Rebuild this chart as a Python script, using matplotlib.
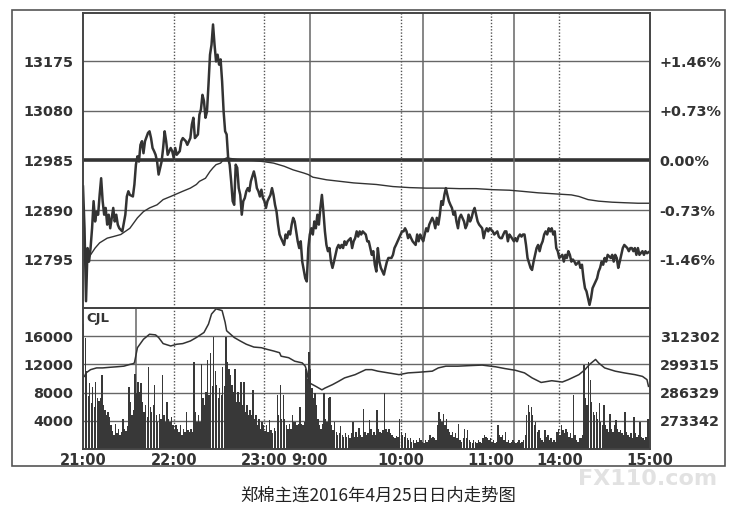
import matplotlib.pyplot as plt
from matplotlib.patches import Rectangle
import numpy as np

plt.rcParams['font.family'] = ['DejaVu Sans']

# axis values
base_price = 12985
price_ticks = [12795, 12890, 12985, 13080, 13175]
pct_labels = ['-1.46%', '-0.73%', '0.00%', '+0.73%', '+1.46%']
vol_ticks = [4000, 8000, 12000, 16000]
oi_ticks = [273342, 286329, 299315, 312302]
time_pos = [0, 60, 120, 150, 210, 270, 315, 375]
time_labels = ['21:00', '22:00', '23:00', '9:00', '10:00', '11:00', '14:00', '15:00']
solid_lines = [150, 225, 285]
dotted_lines = [60, 120, 210, 270, 315]

# minutes since 21:00 on the trading-time axis
price_min = [0, 1, 2, 3, 4, 5, 6, 7, 8, 9, 10, 11, 12, 13, 14, 15, 16, 17, 18, 20,
             21, 22, 23, 24, 26, 28, 29, 30, 31, 33, 34, 35, 36, 37, 38, 39, 40, 41, 43, 44,
             45, 46, 47, 48, 49, 50, 52, 53, 54, 55, 56, 58, 59, 60, 61, 62, 64, 65, 66, 68,
             69, 71, 72, 73, 74, 76, 77, 78, 79, 80, 81, 82, 83, 84, 85, 86, 87, 88, 89, 90,
             91, 92, 93, 94, 95, 96, 97, 98, 99, 100, 101, 102, 103, 104, 105, 106, 107, 108, 109, 110,
             111, 113, 114, 115, 116, 117, 118, 119, 120, 121, 122, 124, 125, 126, 127, 128, 129, 130, 131, 133,
             134, 135, 136, 137, 138, 139, 140, 141, 142, 143, 144, 145, 147, 148, 149, 150, 151, 152, 153, 154,
             155, 156, 157, 158, 159, 160, 161, 162, 163, 164, 165, 166, 167, 168, 169, 170, 171, 172, 173, 174,
             175, 177, 178, 179, 180, 181, 182, 183, 184, 185, 187, 188, 189, 190, 191, 192, 193, 194, 195, 196,
             197, 199, 200, 201, 202, 203, 204, 205, 206, 207, 209, 210, 211, 212, 213, 214, 215, 216, 217, 218,
             220, 221, 222, 223, 224, 225, 226, 227, 228, 229, 231, 232, 233, 234, 235, 236, 237, 238, 239, 240,
             241, 242, 243, 244, 245, 246, 247, 248, 249, 250, 252, 253, 254, 255, 256, 257, 258, 259, 260, 261,
             262, 264, 265, 266, 267, 268, 269, 270, 271, 272, 274, 275, 276, 277, 278, 279, 280, 281, 282, 283,
             285, 286, 287, 288, 289, 290, 291, 292, 293, 294, 296, 297, 298, 299, 300, 301, 302, 303, 304, 305,
             306, 307, 308, 309, 310, 311, 312, 313, 314, 315, 317, 318, 319, 320, 321, 322, 323, 324, 325, 326,
             328, 329, 330, 331, 332, 333, 334, 335, 336, 337, 339, 340, 341, 342, 343, 344, 345, 346, 347, 349,
             350, 351, 352, 353, 354, 355, 356, 357, 358, 360, 361, 362, 363, 364, 365, 366, 367, 368, 370, 371,
             372, 373, 374]
price_val = [12935, 12855, 12715, 12817, 12791, 12817, 12855, 12907, 12868, 12887, 12881, 12919, 12951, 12907, 12881, 12894, 12862, 12881, 12855, 12894,
             12868, 12881, 12862, 12855, 12849, 12881, 12916, 12926, 12919, 12916, 12939, 12977, 12993, 12983, 13015, 13022, 12999, 13022, 13038, 13041,
             13028, 13009, 13003, 12996, 12983, 12958, 12983, 13009, 13041, 13022, 12996, 13009, 13003, 12990, 13009, 12996, 13003, 13022, 13028, 13022,
             13015, 13028, 13054, 13067, 13028, 13035, 13073, 13083, 13111, 13099, 13067, 13079, 13131, 13188, 13207, 13246, 13207, 13175, 13188, 13169,
             13179, 13137, 13079, 13041, 13035, 12990, 12977, 12945, 12907, 12900, 12977, 12971, 12932, 12919, 12881, 12907, 12913, 12926, 12932, 12926,
             12945, 12964, 12951, 12932, 12926, 12916, 12929, 12913, 12907, 12894, 12907, 12919, 12932, 12919, 12900, 12887, 12862, 12843, 12836, 12823,
             12843, 12836, 12849, 12843, 12862, 12875, 12868, 12849, 12830, 12817, 12830, 12791, 12759, 12753, 12817, 12843, 12855, 12843, 12868, 12855,
             12881, 12862, 12894, 12919, 12887, 12849, 12823, 12811, 12817, 12791, 12779, 12791, 12804, 12817, 12823, 12817, 12823, 12817, 12830, 12823,
             12830, 12836, 12817, 12830, 12836, 12849, 12839, 12849, 12843, 12849, 12843, 12830, 12830, 12817, 12804, 12811, 12785, 12772, 12817, 12791,
             12779, 12766, 12779, 12791, 12798, 12798, 12798, 12804, 12817, 12823, 12836, 12843, 12849, 12849, 12855, 12849, 12836, 12843, 12836, 12830,
             12823, 12843, 12830, 12843, 12836, 12830, 12843, 12855, 12849, 12862, 12875, 12868, 12855, 12875, 12862, 12881, 12907, 12900, 12919, 12932,
             12919, 12907, 12900, 12894, 12881, 12887, 12868, 12855, 12875, 12881, 12868, 12855, 12862, 12881, 12868, 12875, 12887, 12894, 12881, 12868,
             12862, 12855, 12836, 12849, 12855, 12849, 12855, 12852, 12849, 12843, 12849, 12839, 12836, 12836, 12843, 12849, 12849, 12830, 12843, 12839,
             12830, 12836, 12830, 12839, 12843, 12839, 12843, 12843, 12823, 12798, 12779, 12775, 12791, 12804, 12817, 12823, 12811, 12823, 12830, 12843,
             12849, 12843, 12855, 12849, 12855, 12843, 12849, 12817, 12811, 12798, 12804, 12791, 12804, 12798, 12811, 12804, 12791, 12795, 12791, 12785,
             12791, 12779, 12785, 12759, 12740, 12734, 12721, 12708, 12721, 12740, 12753, 12759, 12772, 12779, 12791, 12785, 12798, 12791, 12804, 12798,
             12804, 12791, 12804, 12798, 12779, 12791, 12804, 12817, 12823, 12817, 12811, 12817, 12817, 12811, 12817, 12804, 12817, 12804, 12811, 12804,
             12811, 12807, 12809]

avg_min = [2, 5, 8, 11, 16, 20, 25, 28, 31, 36, 40, 44, 49, 53, 58, 62, 66, 71, 75, 77,
           81, 84, 86, 88, 91, 93, 95, 102, 113, 119, 126, 133, 139, 146, 149, 152, 161, 170, 179, 194,
           205, 216, 227, 238, 249, 260, 271, 282, 290, 301, 312, 323, 328, 334, 341, 350, 358, 367, 374]
avg_val = [12791, 12804, 12817, 12827, 12836, 12839, 12843, 12849, 12855, 12875, 12887, 12894, 12900, 12910, 12916, 12921, 12926, 12932, 12939, 12945,
           12951, 12964, 12971, 12977, 12980, 12987, 12990, 12987, 12985, 12983, 12980, 12974, 12967, 12961, 12958, 12953, 12948, 12945, 12942, 12939,
           12935, 12933, 12932, 12932, 12931, 12931, 12929, 12928, 12926, 12923, 12921, 12919, 12916, 12910, 12907, 12905, 12904, 12903, 12903]

# volume (CJL), one bar per minute
volume = [17800, 15700, 11000, 7500, 9300, 6500, 8800, 6000, 9500, 7200, 6800, 7200, 10500, 6200, 5600,
          4800, 5300, 4500, 3400, 2500, 2000, 3600, 2200, 2900, 2000, 2450, 4300, 2900, 2500, 3200,
          8800, 6700, 4800, 5500, 10700, 8000, 9500, 8100, 9300, 6700, 5300, 6200, 4500, 11700, 6000,
          5300, 6200, 9100, 4800, 3900, 5000, 4300, 10500, 4800, 3900, 6700, 4300, 3900, 4500, 3400,
          2700, 3400, 2800, 2450, 3400, 2000, 2900, 2450, 5300, 2700, 2450, 2900, 2450, 12400, 5300,
          3900, 4800, 3900, 12100, 7200, 6200, 8100, 12600, 7600, 13600, 9000, 15900, 11000, 9100, 7200,
          8600, 7600, 11700, 9000, 15900, 12400, 11400, 10500, 9100, 8100, 11400, 6700, 8100, 6700, 9500,
          6200, 9500, 5300, 6200, 4800, 5500, 4800, 8400, 4300, 4800, 3400, 4300, 2900, 3900, 3400,
          2500, 3400, 2450, 4100, 2700, 2200, 3000, 2500, 7600, 4800, 9100, 4300, 7600, 4300, 3400,
          2900, 3600, 2900, 4800, 3900, 3900, 3400, 3600, 6000, 3600, 3400, 3900, 11400, 10000, 13800,
          11400, 8600, 7200, 8000, 6200, 4300, 3400, 2900, 3600, 7900, 4300, 3900, 7200, 7400, 3400,
          2700, 3900, 2450, 2000, 2200, 3200, 2000, 1750, 2200, 1750, 2000, 1500, 2200, 3900, 1750,
          2450, 1750, 3000, 2000, 1750, 5700, 2450, 2000, 2200, 4100, 2900, 2000, 2450, 2000, 5500,
          2900, 2450, 2200, 2700, 7900, 2900, 2450, 2900, 2200, 2000, 1750, 1500, 1900, 1750, 4300,
          2450, 2000, 1750, 2200, 1500, 1250, 1500, 1030, 1250, 800, 1250, 1030, 1500, 1250, 1030,
          800, 1250, 1030, 1250, 2000, 1500, 1750, 1500, 1250, 3400, 5300, 4300, 3900, 5000, 3400,
          4300, 2900, 2450, 2000, 2450, 1750, 2200, 1500, 3600, 1250, 1030, 1500, 2900, 1500, 2700,
          1250, 1030, 800, 1250, 1030, 800, 1250, 1030, 800, 1500, 2000, 1750, 1500, 1250, 1500,
          1030, 1250, 800, 1030, 3400, 2000, 1750, 2000, 1250, 2450, 1030, 1250, 800, 1030, 1250,
          1030, 800, 1030, 1250, 800, 1030, 1250, 2000, 4800, 6200, 5300, 6000, 4800, 3400, 3900,
          2450, 2700, 1500, 1250, 1030, 2700, 1750, 2000, 1250, 1500, 1030, 1250, 1030, 2450, 2900,
          2000, 3400, 2700, 2200, 2900, 2450, 1750, 2200, 1500, 7600, 2000, 1250, 1030, 1500, 1500,
          2000, 11900, 7200, 6200, 12400, 9800, 6700, 5300, 4800, 5300, 4300, 6500, 3900, 3400, 6200,
          3400, 2900, 2450, 5000, 2900, 2450, 3400, 4100, 2900, 2450, 2700, 2200, 2000, 5300, 2450,
          2000, 1750, 2200, 1500, 4600, 2200, 1750, 2000, 3900, 1750, 1500, 1250, 1750, 4300, 4300]

# open interest line, right scale of the lower panel
oi_min = [1, 2, 5, 9, 13, 18, 22, 27, 31, 33, 34, 36, 40, 44, 48, 50, 53, 58, 62, 66,
          71, 75, 80, 83, 85, 88, 92, 94, 95, 100, 104, 108, 113, 118, 122, 126, 130, 131, 136, 140,
          145, 147, 148, 149, 150, 154, 158, 160, 165, 169, 173, 180, 187, 191, 195, 202, 209, 215, 222, 231,
          235, 240, 248, 257, 264, 273, 279, 286, 292, 297, 303, 310, 317, 321, 328, 332, 335, 339, 341, 345,
          352, 358, 365, 370, 373, 374]
oi_val = [293800, 295400, 296900, 297700, 297700, 298000, 298200, 298500, 299300, 299600, 300000, 307000, 310900, 313200, 312900, 311700, 308900, 307800, 308600, 308900,
          310100, 311700, 314000, 317900, 322500, 324900, 324100, 318700, 314800, 311700, 310100, 308600, 307300, 307000, 306200, 305500, 304700, 303100, 302400, 300800,
          300000, 298500, 296200, 292300, 290700, 289200, 287600, 288400, 290000, 291500, 293100, 294600, 296900, 296900, 296200, 295400, 294600, 295400, 295700, 296200,
          297700, 298500, 298500, 298800, 299000, 298200, 297400, 296600, 295400, 293100, 291000, 291800, 291200, 292300, 294600, 296900, 299300, 301600, 300000, 297700,
          296200, 295400, 294600, 293800, 292300, 289200]

W, H = 756, 525
fig = plt.figure(figsize=(W / 100, H / 100), dpi=100)
fig.patches.append(Rectangle((12 / W, 1 - 466 / H), 713 / W, 456 / H, transform=fig.transFigure,
                             fill=False, ec='#555555', lw=1.2))

ax = fig.add_axes([83 / W, 1 - 308 / H, 567 / W, 295 / H])
axv = fig.add_axes([83 / W, 1 - 449 / H, 567 / W, 141 / H])

line_c = '#333333'
grid_c = '#666666'
lab = dict(fontsize=10.4, fontweight='bold', color='#333333')

# ---- price panel
ax.set_xlim(0, 375)
ax.set_ylim(12702, 13268)
for p in price_ticks:
    if p == base_price:
        ax.axhline(p, color='#333333', lw=2.6, zorder=1)
    else:
        ax.axhline(p, color=grid_c, lw=1.0, zorder=1)
for m in solid_lines:
    ax.axvline(m, color=grid_c, lw=1.1, zorder=1)
for m in dotted_lines:
    ax.axvline(m, color='#555555', lw=1.0, ls=(0, (1, 1.3)), zorder=1)
ax.plot(avg_min, avg_val, color=line_c, lw=1.0, zorder=2)
ax.plot(price_min, price_val, color=line_c, lw=1.8, zorder=3)
ax.set_xticks([])
ax.set_yticks(price_ticks)
ax.set_yticklabels([str(p) for p in price_ticks], **lab)
ax.tick_params(axis='y', length=0, pad=7)

axr = ax.twinx()
axr.set_ylim(ax.get_ylim())
axr.set_yticks(price_ticks)
axr.set_yticklabels(pct_labels, **lab)
axr.tick_params(axis='y', length=0, pad=7)

# ---- volume panel
axv.set_xlim(0, 375)
axv.set_ylim(0, 20000)
for v in vol_ticks:
    axv.axhline(v, color=grid_c, lw=1.0, zorder=1)
for m in solid_lines + [35]:
    axv.axvline(m, color=grid_c, lw=1.1, zorder=1)
for m in dotted_lines:
    axv.axvline(m, color='#555555', lw=1.0, ls=(0, (1, 1.3)), zorder=1)
axv.bar(np.arange(len(volume)), volume, width=0.92, align='edge', color='#383838', lw=0, zorder=2)
axv.set_yticks(vol_ticks)
axv.set_yticklabels([str(v) for v in vol_ticks], **lab)
axv.tick_params(axis='y', length=0, pad=7)
axv.set_xticks(time_pos)
axv.set_xticklabels(time_labels, fontsize=10.5, fontweight='bold', color='#333333')
axv.tick_params(axis='x', length=0, pad=3)
axv.text(0.006, 0.975, 'CJL', transform=axv.transAxes, va='top', ha='left',
         fontsize=9.5, fontweight='bold', color='#333333', zorder=5)

step = (oi_ticks[-1] - oi_ticks[0]) / 3
axvr = axv.twinx()
axvr.set_ylim(oi_ticks[0] - step, oi_ticks[-1] + step)
axvr.plot(oi_min, oi_val, color=line_c, lw=1.1)
axvr.set_yticks(oi_ticks)
axvr.set_yticklabels([str(v) for v in oi_ticks], **lab)
axvr.tick_params(axis='y', length=0, pad=7)

for a in (ax, axr, axv, axvr):
    for s in a.spines.values():
        s.set_color('#444444')
        s.set_linewidth(1.2)

fig.text(0.5, 1 - 496 / H, '郑棉主连2016年4月25日日内走势图', ha='center', va='center',
         fontsize=12.5, color='#222222', family=['Noto Sans CJK SC', 'DejaVu Sans'])

# faint watermark at the bottom right, kept just under the time labels
fig.text(578 / W, 1 - 479 / H, 'FX110.com', ha='left', va='center', fontsize=16,
         fontweight='bold', color='#e2e2e2', zorder=10)

fig.savefig('out.png', dpi=100)
